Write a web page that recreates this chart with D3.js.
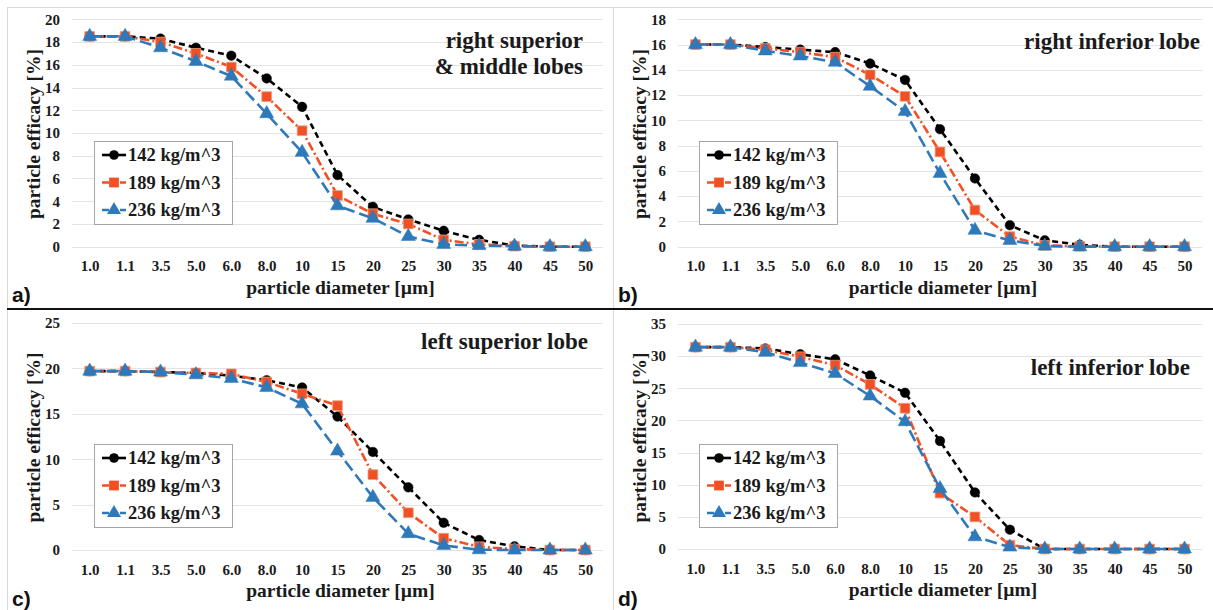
<!DOCTYPE html>
<html>
<head>
<meta charset="utf-8">
<script src="https://cdn.jsdelivr.net/npm/d3@7"></script>
<style>
  body { margin: 0; background: #fff; }
</style>
</head>
<body>
<div id="chart"></div>
<script>
// categories on x (particle diameter, um)
var diameters = ["1.0", "1.1", "3.5", "5.0", "6.0", "8.0", "10", "15", "20", "25", "30", "35", "40", "45", "50"];
var seriesNames = ["142 kg/m^3", "189 kg/m^3", "236 kg/m^3"];

// a) right superior & middle lobes
var a142 = [18.5, 18.5, 18.3, 17.5, 16.8, 14.8, 12.3, 6.3, 3.5, 2.4, 1.4, 0.6, 0.1, 0, 0];
var a189 = [18.5, 18.5, 18.0, 17.0, 15.8, 13.2, 10.2, 4.5, 2.9, 2.0, 0.6, 0.2, 0.05, 0, 0];
var a236 = [18.5, 18.5, 17.5, 16.3, 15.0, 11.7, 8.3, 3.6, 2.5, 0.9, 0.2, 0.1, 0.05, 0, 0];
// b) right inferior lobe
var b142 = [16.0, 16.0, 15.8, 15.6, 15.4, 14.5, 13.2, 9.3, 5.4, 1.7, 0.5, 0.15, 0, 0, 0];
var b189 = [16.0, 16.0, 15.7, 15.4, 15.0, 13.6, 11.9, 7.5, 2.9, 0.8, 0.1, 0.03, 0, 0, 0];
var b236 = [16.0, 16.0, 15.5, 15.1, 14.6, 12.7, 10.7, 5.8, 1.3, 0.5, 0.05, 0, 0, 0, 0];
// c) left superior lobe
var c142 = [19.7, 19.7, 19.6, 19.5, 19.2, 18.7, 17.9, 14.7, 10.8, 6.9, 3.0, 1.1, 0.4, 0, 0];
var c189 = [19.7, 19.7, 19.6, 19.5, 19.4, 18.5, 17.2, 15.9, 8.3, 4.1, 1.3, 0.35, 0.1, 0, 0];
var c236 = [19.7, 19.7, 19.6, 19.3, 18.9, 17.9, 16.1, 10.9, 5.8, 1.8, 0.5, 0.03, 0, 0, 0];
// d) left inferior lobe
var d142 = [31.4, 31.4, 31.2, 30.3, 29.5, 27.0, 24.3, 16.8, 8.8, 3.0, 0, 0, 0, 0, 0];
var d189 = [31.4, 31.4, 31.0, 29.9, 28.6, 25.6, 21.9, 8.7, 5.0, 0.6, 0, 0, 0, 0, 0];
var d236 = [31.4, 31.4, 30.6, 29.0, 27.3, 23.8, 19.8, 9.4, 1.9, 0.3, 0, 0, 0, 0, 0];

var width = 1213, height = 610;
var serif = "'Liberation Serif', 'DejaVu Serif', serif";
var colors = ["#000000", "#f24f24", "#2e79b9"];
var dashes = ["6,4", "9,3,2,3", "12,5"];
var symbols = [d3.symbolCircle, d3.symbolSquare, d3.symbolTriangle];
var symSizes = [72, 95, 85];

var panels = [
  {label: "a)", title: ["right superior", "& middle lobes"], data: [a142, a189, a236], yMax: 20, step: 2,
   x0: 72, x1: 603, y0: 19.3, y1: 246.7, lx: 94, ly: 141, titleX: 583, titleY: 48, ox: 0, oy: 0},
  {label: "b)", title: ["right inferior lobe"], data: [b142, b189, b236], yMax: 18, step: 2,
   x0: 678, x1: 1202, y0: 19.3, y1: 246.7, lx: 699, ly: 141, titleX: 1200, titleY: 49, ox: 606, oy: 0},
  {label: "c)", title: ["left superior lobe"], data: [c142, c189, c236], yMax: 25, step: 5,
   x0: 72, x1: 603, y0: 323, y1: 550, lx: 94, ly: 444, titleX: 588, titleY: 349, ox: 0, oy: 304},
  {label: "d)", title: ["left inferior lobe"], data: [d142, d189, d236], yMax: 35, step: 5,
   x0: 678, x1: 1202, y0: 324, y1: 549, lx: 699, ly: 444, titleX: 1190, titleY: 375, ox: 606, oy: 304}
];

var svg = d3.select("#chart").append("svg")
  .attr("width", width)
  .attr("height", height);

// frame lines
svg.append("line").attr("x1", 7).attr("x2", width).attr("y1", 7.5).attr("y2", 7.5).attr("stroke", "#d9d9d9");
svg.append("line").attr("x1", 7.5).attr("x2", 7.5).attr("y1", 7).attr("y2", height).attr("stroke", "#d9d9d9");
svg.append("line").attr("x1", 613.5).attr("x2", 613.5).attr("y1", 7).attr("y2", height).attr("stroke", "#d9d9d9");

function txt(sel, size) {
  return sel.style("font-family", serif).style("font-weight", "bold")
    .style("font-size", size + "px").style("fill", "#1a1a1a");
}

panels.forEach(function(p) {
  var g = svg.append("g");

  var x = d3.scalePoint()
    .domain(diameters)
    .range([p.x0, p.x1])
    .padding(0.5);
  var y = d3.scaleLinear()
    .domain([0, p.yMax])
    .range([p.y1, p.y0]);

  var ticks = d3.range(0, p.yMax + 0.001, p.step);

  // gridlines
  g.selectAll(".grid")
    .data(ticks)
    .enter().append("line")
    .attr("x1", p.x0).attr("x2", p.x1)
    .attr("y1", function(d) { return Math.round(y(d)) + 0.5; })
    .attr("y2", function(d) { return Math.round(y(d)) + 0.5; })
    .attr("stroke", "#e3e3e3");

  // y axis
  var yAxis = g.append("g")
    .attr("transform", "translate(" + (p.x0 - 6) + ",0)")
    .call(d3.axisLeft(y).tickValues(ticks).tickSize(0).tickPadding(6));
  yAxis.select(".domain").remove();
  txt(yAxis.selectAll("text"), 15);

  // x axis
  var xAxis = g.append("g")
    .attr("transform", "translate(0," + (p.y1 + 8) + ")")
    .call(d3.axisBottom(x).tickSize(0).tickPadding(6));
  xAxis.select(".domain").remove();
  txt(xAxis.selectAll("text"), 15);

  // series lines + markers
  p.data.forEach(function(vals, si) {
    var line = d3.line()
      .x(function(d, i) { return x(diameters[i]); })
      .y(function(d) { return y(d); });
    g.append("path")
      .datum(vals)
      .attr("d", line)
      .attr("fill", "none")
      .attr("stroke", colors[si])
      .attr("stroke-width", 2.6)
      .attr("stroke-dasharray", dashes[si]);
    g.selectAll(".m" + si)
      .data(vals)
      .enter().append("path")
      .attr("d", d3.symbol().type(symbols[si]).size(symSizes[si]))
      .attr("transform", function(d, i) { return "translate(" + x(diameters[i]) + "," + y(d) + ")"; })
      .attr("fill", colors[si])
      .attr("stroke", si == 1 ? "#e8a080" : colors[si])
      .attr("stroke-width", si == 1 ? 0.8 : 0.5);
  });

  // title in the corner
  p.title.forEach(function(t, i) {
    txt(g.append("text")
      .attr("x", p.titleX)
      .attr("y", p.titleY + i * 26)
      .attr("text-anchor", "end"), 23)
      .text(t);
  });

  // axis titles
  txt(g.append("text")
    .attr("x", (p.x0 + p.x1) / 2 + 3)
    .attr("y", p.y1 + 47)
    .attr("text-anchor", "middle"), 19.5)
    .text("particle diameter [µm]");
  txt(g.append("text")
    .attr("transform", "translate(" + (p.ox + 40) + "," + ((p.y0 + p.y1) / 2 + 1) + ") rotate(-90)")
    .attr("text-anchor", "middle"), 19.5)
    .text("particle efficacy [%]");

  // panel letter
  g.append("text")
    .attr("x", p.ox + 12)
    .attr("y", p.oy + 302)
    .style("font-family", "'Liberation Sans', Arial, sans-serif")
    .style("font-weight", "bold")
    .style("font-size", "21px")
    .style("fill", "#111")
    .text(p.label);

  // legend
  var lg = g.append("g").attr("transform", "translate(" + p.lx + "," + p.ly + ")");
  lg.append("rect")
    .attr("x", 0.5).attr("y", 0.5)
    .attr("width", 138).attr("height", 83)
    .attr("fill", "#fff")
    .attr("stroke", "#a6a6a6");
  seriesNames.forEach(function(name, si) {
    var cy = 14 + si * 27.5;
    lg.append("line")
      .attr("x1", 8).attr("x2", 32)
      .attr("y1", cy).attr("y2", cy)
      .attr("stroke", colors[si])
      .attr("stroke-width", 2.6)
      .attr("stroke-dasharray", si == 0 ? null : "7,2");
    lg.append("path")
      .attr("d", d3.symbol().type(symbols[si]).size(symSizes[si]))
      .attr("transform", "translate(20," + cy + ")")
      .attr("fill", colors[si]);
    txt(lg.append("text")
      .attr("x", 34)
      .attr("y", cy + 6), 18.5)
      .text(name);
  });
});

// heavy divider between the rows
svg.append("line").attr("x1", 7).attr("x2", width).attr("y1", 309).attr("y2", 309)
  .attr("stroke", "#111").attr("stroke-width", 2.2);
</script>
</body>
</html>
